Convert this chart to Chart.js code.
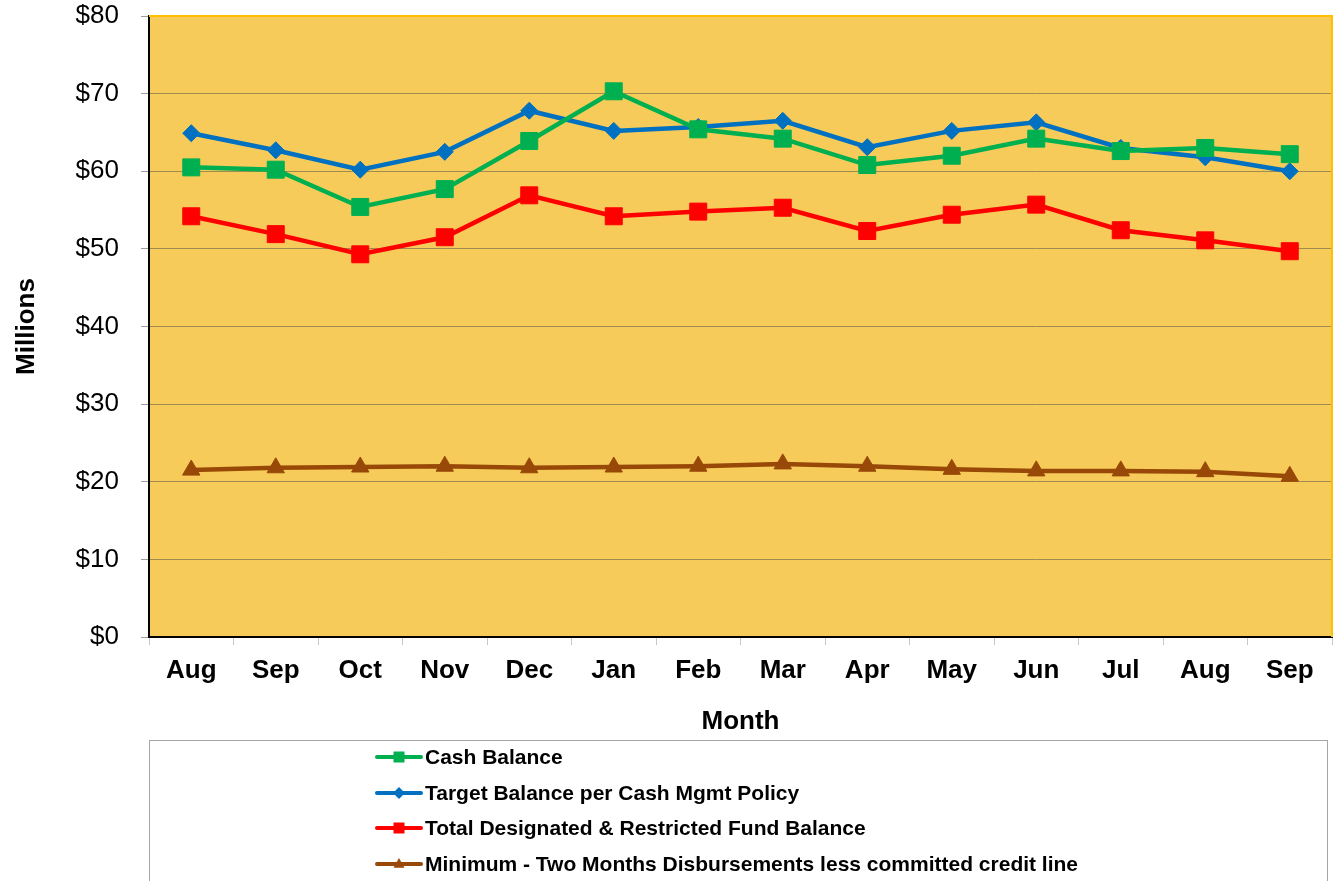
<!DOCTYPE html>
<html>
<head>
<meta charset="utf-8">
<script src="https://cdn.jsdelivr.net/npm/chart.js"></script>
<style>
  html, body { margin: 0; padding: 0; background: #ffffff; }
  #wrap { width: 1334px; height: 881px; position: relative; }
</style>
</head>
<body>
<div id="wrap"><canvas id="chart" width="1334" height="881"></canvas></div>
<script>
const months = ['Aug', 'Sep', 'Oct', 'Nov', 'Dec', 'Jan', 'Feb', 'Mar', 'Apr', 'May', 'Jun', 'Jul', 'Aug', 'Sep'];

const cashBalance = [60.5, 60.2, 55.4, 57.7, 63.9, 70.3, 65.4, 64.2, 60.8, 62.0, 64.2, 62.6, 63.0, 62.2];
const targetBalance = [64.9, 62.7, 60.2, 62.5, 67.8, 65.2, 65.7, 66.5, 63.1, 65.2, 66.3, 63.0, 61.8, 60.0];
const restrictedBalance = [54.2, 51.9, 49.3, 51.5, 56.9, 54.2, 54.8, 55.3, 52.3, 54.4, 55.7, 52.4, 51.1, 49.7];
const minimumBalance = [21.5, 21.8, 21.9, 22.0, 21.8, 21.9, 22.0, 22.3, 22.0, 21.6, 21.4, 21.4, 21.3, 20.7];

const seriesNames = [
    'Cash Balance',
    'Target Balance per Cash Mgmt Policy',
    'Total Designated & Restricted Fund Balance',
    'Minimum - Two Months Disbursements less committed credit line'
];

const FONT = "'Liberation Sans', Arial, sans-serif";

function makeDataset(label, data, color, style, radius) {
    return {
        label: label,
        data: data,
        borderColor: color,
        backgroundColor: color,
        borderWidth: 4.5,
        pointStyle: style,
        pointRadius: radius,
        pointHoverRadius: radius,
        pointBorderWidth: 1,
        pointBorderColor: color,
        pointBackgroundColor: color,
        tension: 0
    };
}

// orange plot area, gold border on top and right
const plotBackground = {
    id: 'plotBackground',
    beforeDraw(chart) {
        const a = chart.chartArea;
        const ctx = chart.ctx;
        ctx.save();
        ctx.fillStyle = '#F6CB5A';
        ctx.fillRect(a.left, a.top, a.right - a.left, a.bottom - a.top);
        ctx.restore();
    },
    afterDraw(chart) {
        const a = chart.chartArea;
        const ctx = chart.ctx;
        ctx.save();
        ctx.strokeStyle = '#FFC000';
        ctx.lineWidth = 2;
        ctx.beginPath();
        ctx.moveTo(a.left, a.top);
        ctx.lineTo(a.right, a.top);
        ctx.lineTo(a.right, a.bottom);
        ctx.stroke();
        ctx.restore();
    }
};

function drawMarker(ctx, style, x, y, r) {
    ctx.beginPath();
    if (style === 'rect') {
        ctx.rect(x - r, y - r, 2 * r, 2 * r);
    } else if (style === 'rectRot') {
        ctx.moveTo(x, y - r);
        ctx.lineTo(x + r, y);
        ctx.lineTo(x, y + r);
        ctx.lineTo(x - r, y);
        ctx.closePath();
    } else {
        ctx.moveTo(x, y - r * 1.1);
        ctx.lineTo(x + r, y + r * 0.7);
        ctx.lineTo(x - r, y + r * 0.7);
        ctx.closePath();
    }
    ctx.fill();
}

// boxed legend below the chart, one entry per row
const boxLegend = {
    id: 'boxLegend',
    afterDraw(chart) {
        const ctx = chart.ctx;
        ctx.save();
        ctx.strokeStyle = '#A6A6A6';
        ctx.lineWidth = 1;
        ctx.strokeRect(149.5, 740.5, 1178, 170);
        const rowY = [757, 793, 828, 864];
        chart.data.datasets.forEach(function (ds, i) {
            const y = rowY[i];
            ctx.strokeStyle = ds.borderColor;
            ctx.fillStyle = ds.borderColor;
            ctx.lineWidth = 4;
            ctx.lineCap = 'round';
            ctx.beginPath();
            ctx.moveTo(377, y);
            ctx.lineTo(421, y);
            ctx.stroke();
            drawMarker(ctx, ds.pointStyle, 399, y, ds.pointStyle === 'rectRot' ? 6 : 5.5);
            ctx.fillStyle = '#000000';
            ctx.font = 'bold 21px ' + FONT;
            ctx.textBaseline = 'middle';
            ctx.textAlign = 'left';
            ctx.fillText(ds.label, 425, y + 1);
        });
        ctx.restore();
    }
};

new Chart(document.getElementById('chart'), {
    type: 'line',
    data: {
        labels: months,
        datasets: [
            makeDataset(seriesNames[0], cashBalance, '#00B050', 'rect', 12),
            makeDataset(seriesNames[1], targetBalance, '#0070C0', 'rectRot', 8.5),
            makeDataset(seriesNames[2], restrictedBalance, '#FF0000', 'rect', 12),
            makeDataset(seriesNames[3], minimumBalance, '#984807', 'triangle', 10)
        ]
    },
    options: {
        responsive: false,
        animation: false,
        layout: {
            autoPadding: false,
            padding: { left: 0, right: 2, top: 16, bottom: 144 }
        },
        plugins: {
            legend: { display: false },
            tooltip: { enabled: false }
        },
        scales: {
            x: {
                offset: true,
                grid: {
                    offset: true,
                    drawOnChartArea: false,
                    drawTicks: true,
                    tickLength: 8,
                    tickColor: '#C8C8C8'
                },
                border: { color: '#000000', width: 2 },
                ticks: {
                    color: '#000000',
                    padding: 10,
                    maxRotation: 0,
                    autoSkip: false,
                    font: { family: FONT, size: 26, weight: 'bold' }
                },
                title: {
                    display: true,
                    text: 'Month',
                    color: '#000000',
                    padding: { top: 0, bottom: 0 },
                    font: { family: FONT, size: 26, weight: 'bold' }
                },
                afterFit(scale) {
                    scale.height = 100;
                    scale.paddingLeft = 0;
                    scale.paddingRight = 0;
                }
            },
            y: {
                min: 0,
                max: 80,
                grid: {
                    color: '#A08C50',
                    lineWidth: 1,
                    tickLength: 8,
                    tickColor: '#A0A0A0'
                },
                border: { color: '#000000', width: 2 },
                ticks: {
                    stepSize: 10,
                    color: '#000000',
                    padding: 22,
                    font: { family: FONT, size: 26 },
                    callback: function (value) {
                        return '$' + value;
                    }
                },
                title: {
                    display: true,
                    text: 'Millions',
                    color: '#000000',
                    padding: 11,
                    font: { family: FONT, size: 26, weight: 'bold' }
                },
                afterFit(scale) {
                    scale.width = 149;
                    scale.paddingTop = 0;
                    scale.paddingBottom = 0;
                }
            }
        }
    },
    plugins: [plotBackground, boxLegend]
});
</script>
</body>
</html>
